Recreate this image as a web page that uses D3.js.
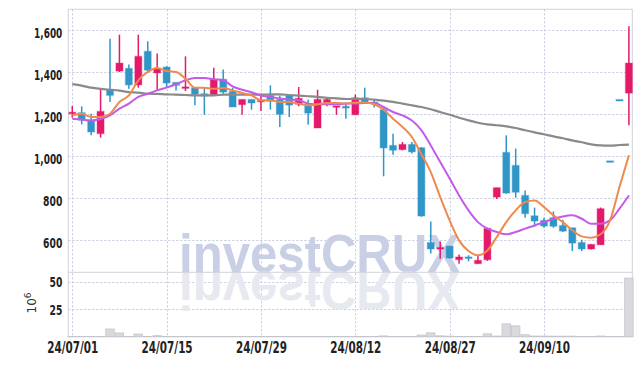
<!DOCTYPE html>
<html><head><meta charset="utf-8">
<script src="https://cdn.jsdelivr.net/npm/d3@7/dist/d3.min.js"></script>
<style>body{margin:0;background:#fff}svg{display:block}</style>
</head><body>
<svg id="chart" width="642" height="366"></svg>
<script>
const dates = ["24/07/01","24/07/02","24/07/03","24/07/04","24/07/05","24/07/08","24/07/09","24/07/10","24/07/11","24/07/12",
"24/07/15","24/07/16","24/07/17","24/07/18","24/07/19","24/07/22","24/07/23","24/07/24","24/07/25","24/07/26",
"24/07/29","24/07/30","24/07/31","24/08/01","24/08/02","24/08/05","24/08/06","24/08/07","24/08/08","24/08/09",
"24/08/12","24/08/13","24/08/14","24/08/16","24/08/19","24/08/20","24/08/21","24/08/22","24/08/23","24/08/26",
"24/08/27","24/08/28","24/08/29","24/08/30","24/09/02","24/09/03","24/09/04","24/09/05","24/09/06","24/09/09",
"24/09/10","24/09/11","24/09/12","24/09/13","24/09/19","24/09/20","24/09/23","24/09/24","24/09/25","24/09/26"];
const tickDates = ["24/07/01","24/07/15","24/07/29","24/08/12","24/08/27","24/09/10"];
const openP  = [1205,1208,1171,1108,1319,1406,1419,1340,1500,1397,1425,1352,1325,1327,1298,1290,1367,1309,1246,1271,
1262,1290,1271,1290,1248,1248,1135,1254,1236,1238,1198,1279,1256,1222,1052,1032,1057,1041,590,561,
573,508,520,489,508,806,1019,957,814,717,695,708,671,660,590,559,579,975,1267,1301];
const highP  = [1240,1238,1203,1317,1560,1579,1437,1579,1548,1489,1429,1352,1476,1327,1327,1422,1413,1327,1271,1271,
1290,1338,1290,1294,1330,1270,1317,1283,1238,1254,1294,1327,1270,1232,1108,1068,1068,1044,690,595,
573,533,529,529,660,851,1100,1037,838,756,708,738,698,660,603,581,756,975,1267,1619];
const lowP   = [1185,1152,1100,1089,1259,1401,1322,1327,1397,1311,1327,1314,1311,1243,1198,1290,1298,1235,1198,1222,
1216,1222,1140,1187,1238,1151,1135,1238,1198,1179,1198,1254,1232,905,1008,1029,1013,712,537,513,
513,489,500,489,502,797,822,803,708,667,660,660,640,549,549,556,579,975,1267,1148];
const closeP = [1208,1172,1116,1214,1290,1444,1340,1476,1410,1419,1349,1338,1329,1295,1287,1367,1306,1235,1271,1254,
1265,1262,1200,1244,1276,1206,1271,1271,1238,1230,1279,1259,1254,1040,1029,1057,1021,716,559,564,
516,521,515,505,657,851,825,829,727,692,668,667,644,587,559,581,751,975,1267,1444];
const volume = [0.1,0.1,0.1,0.2,7.0,3.4,0.2,2.4,0.2,0.9,0.1,0.1,0.1,0.1,0.1,0.1,0.1,0.1,0.1,0.1,
0.1,0.1,0.1,0.1,0.1,0.1,0.1,0.1,0.1,0.1,0.1,0.1,0.1,0.7,0.2,0.2,0.2,1.5,3.5,0.8,
0.5,0.2,0.2,0.3,2.6,0.6,11.7,9.9,1.8,0.6,0.6,0.5,0.5,0.5,0.2,0.2,0.6,0.1,0.1,53.5];
const ma5  = [1195,1203,1187,1187,1203,1259,1290,1362,1402,1421,1406,1402,1370,1327,1327,1322,1325,1314,1302,1290,
1267,1267,1259,1259,1251,1243,1248,1254,1254,1251,1256,1256,1248,1222,1179,1140,1092,1010,925,806,
695,600,549,529,552,616,687,743,783,790,759,719,687,648,619,613,629,695,854,1005];
const ma20 = [1179,1175,1171,1178,1195,1227,1251,1283,1298,1314,1327,1343,1362,1373,1373,1367,1362,1333,1317,1305,
1290,1283,1275,1270,1267,1251,1248,1248,1248,1251,1251,1254,1254,1235,1211,1195,1171,1125,1052,973,
894,814,743,687,656,640,629,640,656,671,687,703,714,719,703,679,679,695,751,814];
const ma60 = [1344,1337,1327,1321,1317,1313,1306,1303,1298,1297,1295,1294,1292,1290,1290,1290,1294,1294,1294,1294,
1294,1295,1295,1292,1289,1286,1283,1279,1276,1273,1273,1273,1270,1265,1259,1251,1243,1235,1224,1211,
1198,1184,1171,1160,1152,1148,1143,1135,1124,1114,1105,1095,1086,1076,1067,1057,1052,1051,1054,1056];
const priceTicks = [600,800,1000,1200,1400,1600];
const volTicks = [25,50];

const svg = d3.select("#chart");
const L = 68.3, R = 632.3, T = 9.3, M = 272.3, B = 336.7;
const x = d3.scaleLinear().domain([-0.42, 59.36]).range([L, R]);
const y = d3.scaleLinear().domain([448, 1700]).range([M, T]);
const yv = d3.scaleLinear().domain([0, 58.8]).range([B, M]);
const UP = "#e5196a", DOWN = "#3096c8";
const fontStack = "'Liberation Sans Narrow','DejaVu Sans Condensed',sans-serif";
const idx = d3.range(dates.length);
const tickIdx = tickDates.map(d => dates.indexOf(d));
// width of a condensed label: digits ~6.6px, punctuation ~2.6px
const labelLen = (s, dw, pw) => s.split("").reduce((a, ch) => a + (/[0-9]/.test(ch) ? dw : pw), 0);

// grid
const grid = svg.append("g").attr("stroke", "#c6c9de").attr("stroke-width", 1).attr("stroke-dasharray", "2,2");
priceTicks.forEach(t => grid.append("line").attr("x1", L).attr("x2", R).attr("y1", Math.round(y(t))+0.5).attr("y2", Math.round(y(t))+0.5));
volTicks.forEach(t => grid.append("line").attr("x1", L).attr("x2", R).attr("y1", Math.round(yv(t))+0.5).attr("y2", Math.round(yv(t))+0.5));
tickIdx.forEach(i => grid.append("line").attr("y1", T).attr("y2", B).attr("x1", Math.round(x(i))+0.5).attr("x2", Math.round(x(i))+0.5));

// watermark
const wm = svg.append("g").attr("font-family", "'Liberation Sans','DejaVu Sans',sans-serif").attr("font-weight", "bold").attr("font-size", 53.6);
wm.append("text").attr("x", 179).attr("y", M).attr("textLength", 281).attr("lengthAdjust", "spacingAndGlyphs")
  .attr("fill", "#c9d0e6").text("investCRUX");
wm.append("text").attr("x", 179).attr("y", M).attr("textLength", 281).attr("lengthAdjust", "spacingAndGlyphs")
  .attr("transform", `translate(0,${2*M}) scale(1,-1)`).attr("fill", "#e7e9f1").text("investCRUX");

// frame
const frame = svg.append("g").attr("stroke", "#d2d3dc").attr("stroke-width", 1).attr("fill", "none");
frame.append("rect").attr("x", L).attr("y", T).attr("width", R - L).attr("height", B - T);
frame.append("line").attr("x1", L).attr("x2", R).attr("y1", M).attr("y2", M);

// volume bars
const bw = x(1) - x(0);
svg.append("g").selectAll("rect").data(idx).join("rect")
  .attr("x", i => x(i) - bw/2 + 0.5).attr("width", bw - 1)
  .attr("y", i => yv(volume[i])).attr("height", i => B - yv(volume[i]))
  .attr("fill", "#d9d9de").attr("stroke", "#c4c4cc").attr("stroke-width", 0.8);

// candles
const cg = svg.append("g");
const cw = 7;
idx.forEach(i => {
  const up = closeP[i] > openP[i];
  const col = up ? UP : DOWN;
  const g = cg.append("g");
  g.append("line").attr("x1", x(i)).attr("x2", x(i)).attr("y1", y(highP[i])).attr("y2", y(lowP[i]))
    .attr("stroke", col).attr("stroke-width", 1.5);
  const top = y(Math.max(openP[i], closeP[i])), bot = y(Math.min(openP[i], closeP[i]));
  const h = Math.max(1.5, bot - top);
  g.append("rect").attr("x", x(i) - cw/2).attr("y", (top + bot)/2 - h/2).attr("width", cw).attr("height", h)
    .attr("fill", col).attr("stroke", col).attr("stroke-opacity", 0.25).attr("stroke-width", 1.5);
});

// moving averages
const line = arr => d3.line().x(i => x(i)).y(i => y(arr[i])).curve(d3.curveMonotoneX)(idx);
svg.append("path").attr("d", line(ma60)).attr("fill", "none").attr("stroke", "#8a8a8a").attr("stroke-width", 2.2);
svg.append("path").attr("d", line(ma20)).attr("fill", "none").attr("stroke", "#c65ae8").attr("stroke-width", 2);
svg.append("path").attr("d", line(ma5)).attr("fill", "none").attr("stroke", "#ef8a4e").attr("stroke-width", 2);

// axes
const ya = svg.append("g").attr("transform", `translate(${L - 6},0)`)
  .call(d3.axisLeft(y).tickValues(priceTicks).tickFormat(d3.format(",")).tickSize(0).tickPadding(0));
ya.select(".domain").remove();
ya.selectAll("text").attr("dy", "0.5em");
const va = svg.append("g").attr("transform", `translate(${L - 6},0)`)
  .call(d3.axisLeft(yv).tickValues(volTicks).tickSize(0).tickPadding(0));
va.select(".domain").remove();
va.selectAll("text").attr("dy", "0.36em");
[ya, va].forEach(a => a.selectAll("text").attr("font-family", fontStack).attr("font-weight", "bold")
  .attr("font-size", 13.5).attr("fill", "#222")
  .attr("textLength", function(){ return labelLen(this.textContent, 6.4, 2.6); })
  .attr("lengthAdjust", "spacingAndGlyphs"));
const xa = svg.append("g").attr("transform", `translate(0,${B})`)
  .call(d3.axisBottom(x).tickValues(tickIdx).tickFormat(i => dates[i]).tickSize(0).tickPadding(6));
xa.select(".domain").remove();
xa.selectAll("text").attr("font-family", fontStack).attr("font-weight", "bold").attr("font-size", 15)
  .attr("fill", "#222").attr("dy", "0.71em")
  .attr("textLength", function(){ return labelLen(this.textContent, 6.9, 4.8); })
  .attr("lengthAdjust", "spacingAndGlyphs");

// unit label
const ul = svg.append("text").attr("transform", "translate(36,303) rotate(-90)")
  .attr("text-anchor", "middle").attr("font-family", "'DejaVu Sans',sans-serif").attr("font-size", 12).attr("fill", "#333");
ul.append("tspan").text("10");
ul.append("tspan").attr("dy", -5).attr("font-size", 9).text("6");
</script>
</body></html>
